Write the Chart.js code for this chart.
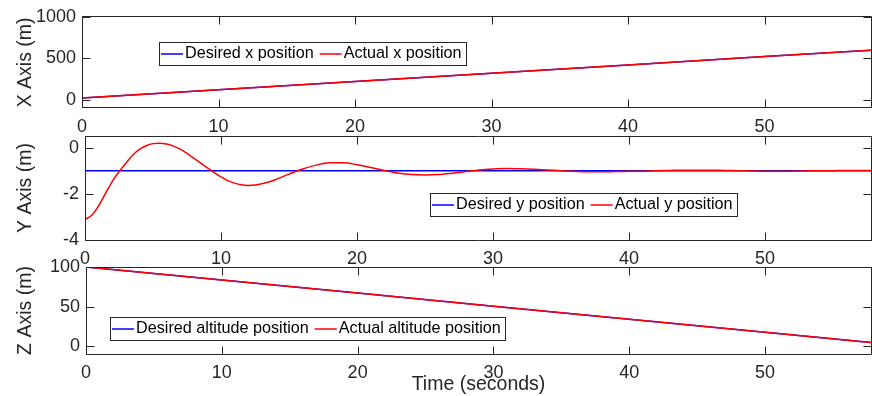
<!DOCTYPE html>
<html>
<head>
<meta charset="utf-8">
<script src="https://cdn.jsdelivr.net/npm/chart.js@4/dist/chart.umd.min.js"></script>
<style>
  html, body { margin: 0; padding: 0; background: #ffffff; }
  #wrap { position: relative; width: 872px; height: 396px; overflow: hidden; }
  #wrap canvas { position: absolute; left: 0; top: 0; }
</style>
</head>
<body>
<div id="wrap">
  <canvas id="panelX" width="872" height="396"></canvas>
  <canvas id="panelY" width="872" height="396"></canvas>
  <canvas id="panelZ" width="872" height="396"></canvas>
</div>
<script>
// ---- data ----
const timeTicks = [0, 10, 20, 30, 40, 50];
const xPosTicks = [0, 500, 1000];
const yPosTicks = [-4, -2, 0];
const zPosTicks = [0, 50, 100];

// straight-line tracks (x and altitude)
const timeLin = [0, 10, 20, 30, 40, 50, 57.8];
const desiredX = [20, 120, 220, 320, 420, 520, 598];
const actualX = [20, 120, 220, 320, 420, 520, 598];
const desiredZ = [100, 83.5, 67, 50.5, 34, 17.5, 4.6];
const actualZ = [100, 83.5, 67, 50.5, 34, 17.5, 4.6];

// lateral (y) tracking
const timeDesiredY = [0, 57.8];
const desiredY = [-1, -1];
const timeY = [0, 0.5, 1, 1.5, 2, 2.5, 3, 3.5, 4, 4.5, 5, 5.5, 6, 6.5, 7, 7.5, 8, 8.5, 9, 9.5,
  10, 10.5, 11, 11.5, 12, 12.5, 13, 13.5, 14, 15, 16, 17, 18, 19, 20, 21, 22, 23, 24, 25, 26, 27,
  28, 29, 30, 31, 32, 33, 34, 35, 36, 37, 38, 39, 40, 41, 42, 43, 44, 45, 46, 47, 48, 49, 50, 51,
  52, 53, 54, 55, 56, 57, 57.8];
const actualY = [-3.11, -2.93, -2.52, -1.99, -1.47, -1.05, -0.68, -0.33, -0.08, 0.08, 0.17, 0.19,
  0.15, 0.06, -0.07, -0.25, -0.46, -0.67, -0.88, -1.08, -1.27, -1.43, -1.54, -1.61, -1.64, -1.62,
  -1.57, -1.49, -1.39, -1.15, -0.93, -0.76, -0.66, -0.66, -0.74, -0.86, -0.99, -1.10, -1.17, -1.19,
  -1.17, -1.11, -1.04, -0.97, -0.93, -0.91, -0.92, -0.94, -0.97, -1.00, -1.03, -1.05, -1.05, -1.04,
  -1.03, -1.02, -1.00, -0.99, -0.98, -0.98, -0.98, -0.99, -1.00, -1.01, -1.02, -1.02, -1.02, -1.01,
  -1.00, -1.00, -0.99, -0.99, -0.99];

// ---- helpers ----
const FONT = '"Liberation Sans", Arial, Helvetica, sans-serif';
const AXIS_COLOR = '#262626';
const pts = (ts, vs) => ts.map((t, i) => ({ x: t, y: vs[i] }));

// box outline with inward tick marks on all four sides
const framePlugin = {
  id: 'frame',
  afterDatasetsDraw(chart) {
    const { ctx, chartArea: a, scales: { x, y } } = chart;
    const L = 8;
    const l = Math.floor(a.left) + 0.5, r = Math.floor(a.right) + 0.5;
    const t = Math.floor(a.top) + 0.5, b = Math.floor(a.bottom) + 0.5;
    ctx.save();
    ctx.strokeStyle = AXIS_COLOR;
    ctx.lineWidth = 1;
    ctx.beginPath();
    x.ticks.forEach(tk => {
      const px = Math.round(x.getPixelForValue(tk.value)) + 0.5;
      ctx.moveTo(px, b); ctx.lineTo(px, b - L);
      ctx.moveTo(px, t); ctx.lineTo(px, t + L);
    });
    y.ticks.forEach(tk => {
      const py = Math.round(y.getPixelForValue(tk.value)) + 0.5;
      ctx.moveTo(l, py); ctx.lineTo(l + L, py);
      ctx.moveTo(r, py); ctx.lineTo(r - L, py);
    });
    ctx.moveTo(l, t); ctx.lineTo(r, t); ctx.lineTo(r, b); ctx.lineTo(l, b); ctx.closePath();
    ctx.stroke();
    ctx.restore();
  }
};

// boxed horizontal legend placed inside the axes
const boxLegendPlugin = {
  id: 'boxLegend',
  afterDraw(chart, args, opts) {
    const { ctx } = chart;
    const items = chart.data.datasets;
    ctx.save();
    ctx.font = `${opts.fontSize}px ${FONT}`;
    const lineLen = 22, gapLT = 2, gapItem = 6, padL = 2, padR = 4;
    let w = padL;
    items.forEach((d, i) => {
      w += lineLen + gapLT + ctx.measureText(d.label).width;
      if (i < items.length - 1) w += gapItem;
    });
    w += padR;
    const x0 = opts.left, y0 = opts.top, h = opts.height;
    ctx.fillStyle = '#ffffff';
    ctx.fillRect(x0, y0, w, h);
    ctx.strokeStyle = AXIS_COLOR;
    ctx.lineWidth = 1;
    ctx.strokeRect(Math.floor(x0) + 0.5, Math.floor(y0) + 0.5, Math.round(w), h);
    let cx = x0 + padL;
    const cy = y0 + h / 2 + 0.5;
    items.forEach(d => {
      ctx.strokeStyle = d.borderColor;
      ctx.lineWidth = 1.5;
      ctx.beginPath();
      ctx.moveTo(cx, cy); ctx.lineTo(cx + lineLen, cy);
      ctx.stroke();
      cx += lineLen + gapLT;
      ctx.fillStyle = '#000000';
      ctx.textBaseline = 'middle';
      ctx.textAlign = 'left';
      ctx.fillText(d.label, cx, cy);
      cx += ctx.measureText(d.label).width + gapItem;
    });
    ctx.restore();
  }
};

function makePanel(id, datasets, cfg) {
  return new Chart(document.getElementById(id), {
    type: 'line',
    data: { datasets },
    options: {
      responsive: false,
      animation: false,
      devicePixelRatio: 1,
      events: [],
      layout: { padding: { top: cfg.top, bottom: cfg.padBottom, left: 0, right: 1 } },
      elements: { point: { radius: 0 }, line: { borderWidth: 1.5 } },
      plugins: {
        legend: { display: false },
        tooltip: { enabled: false },
        boxLegend: cfg.legend
      },
      scales: {
        x: {
          type: 'linear',
          min: 0,
          max: 57.8,
          grid: { display: false, drawTicks: false },
          border: { display: false },
          afterBuildTicks: s => { s.ticks = timeTicks.map(v => ({ value: v })); },
          afterFit: s => { s.height = cfg.xHeight; },
          ticks: {
            padding: 8, color: AXIS_COLOR, maxRotation: 0, autoSkip: false,
            font: { family: FONT, size: 18 },
            callback: v => String(v)
          },
          title: cfg.xTitle ? {
            display: true, text: cfg.xTitle, color: AXIS_COLOR,
            font: { family: FONT, size: 19.5 }, padding: { top: 0, bottom: 0 }
          } : { display: false }
        },
        y: {
          type: 'linear',
          min: cfg.yMin,
          max: cfg.yMax,
          grid: { display: false, drawTicks: false },
          border: { display: false },
          afterBuildTicks: s => { s.ticks = cfg.yTicks.map(v => ({ value: v })); },
          afterFit: s => { s.width = cfg.left; },
          ticks: {
            padding: 6, color: AXIS_COLOR, autoSkip: false,
            font: { family: FONT, size: 18 },
            callback: v => String(v)
          },
          title: {
            display: true, text: cfg.yTitle, color: AXIS_COLOR,
            font: { family: FONT, size: 19.5 }, padding: { top: 14, bottom: 0 }
          }
        }
      }
    },
    plugins: [framePlugin, boxLegendPlugin]
  });
}

const BLUE = '#0000ff', RED = '#ff0000';

makePanel('panelX', [
  { label: 'Desired x position', data: pts(timeLin, desiredX), borderColor: BLUE, order: 2 },
  { label: 'Actual x position', data: pts(timeLin, actualX), borderColor: RED, order: 1 }
], {
  top: 15, padBottom: 258, xHeight: 30, left: 82,
  yMin: -100, yMax: 1000, yTicks: xPosTicks, yTitle: 'X Axis (m)',
  legend: { left: 159, top: 42, height: 23, fontSize: 16.2 }
});

makePanel('panelY', [
  { label: 'Desired y position', data: pts(timeDesiredY, desiredY), borderColor: BLUE, order: 2 },
  { label: 'Actual y position', data: pts(timeY, actualY), borderColor: RED, order: 1,
    cubicInterpolationMode: 'monotone' }
], {
  top: 136, padBottom: 126, xHeight: 30, left: 85,
  yMin: -4, yMax: 0.5, yTicks: yPosTicks, yTitle: 'Y Axis (m)',
  legend: { left: 430, top: 193, height: 23, fontSize: 16.2 }
});

makePanel('panelZ', [
  { label: 'Desired altitude position', data: pts(timeLin, desiredZ), borderColor: BLUE, order: 2 },
  { label: 'Actual altitude position', data: pts(timeLin, actualZ), borderColor: RED, order: 1 }
], {
  top: 267, padBottom: 0, xHeight: 42, left: 86,
  yMin: -10, yMax: 100, yTicks: zPosTicks, yTitle: 'Z Axis (m)', xTitle: 'Time (seconds)',
  legend: { left: 110, top: 317, height: 23, fontSize: 16.2 }
});
</script>
</body>
</html>
